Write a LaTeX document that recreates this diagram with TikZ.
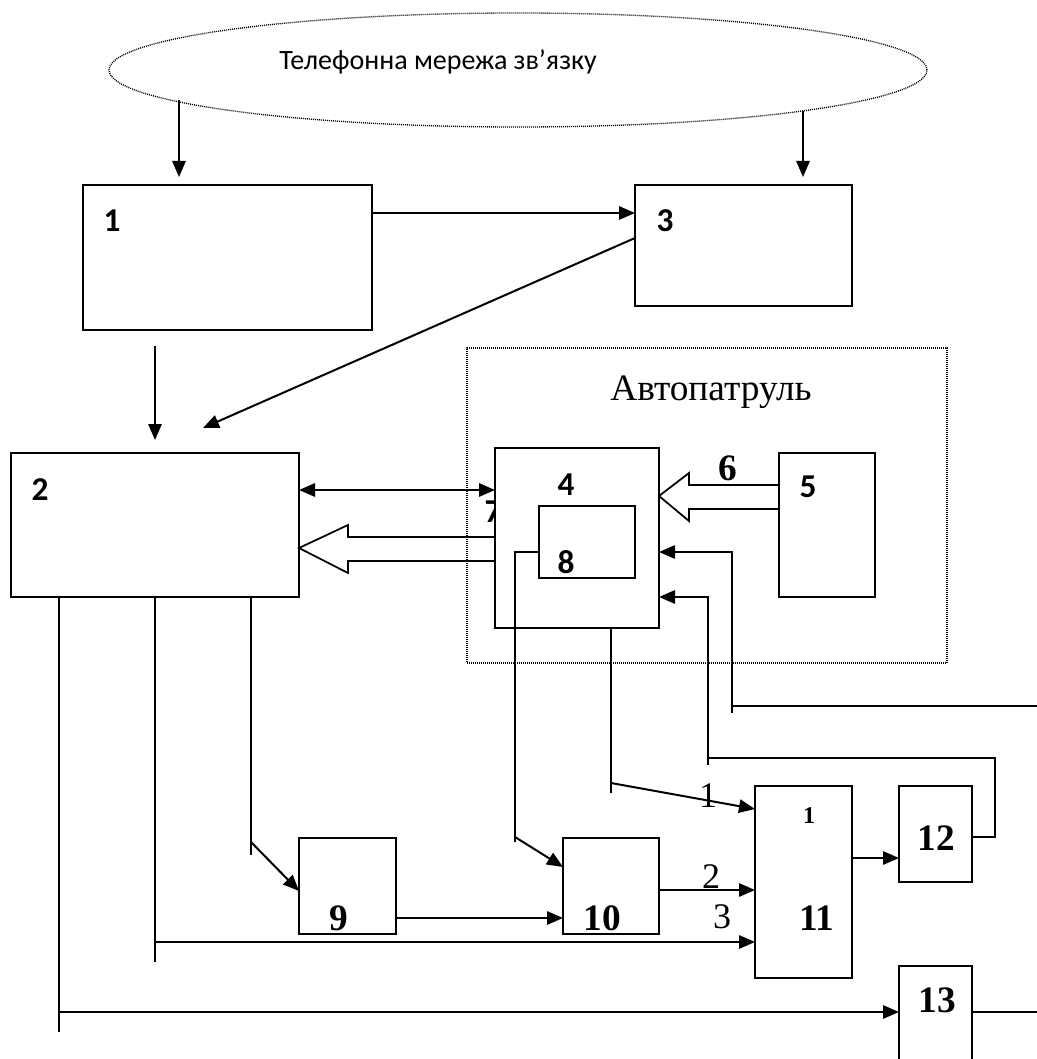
\documentclass[tikz,border=0pt]{standalone}
\usepackage{fontspec}
\setmainfont{Liberation Serif}
\newfontfamily\carl{Carlito}
\usetikzlibrary{arrows.meta,calc,shapes.geometric}

\begin{document}
\begin{tikzpicture}[x=0.75pt,y=0.75pt,yscale=-1,xscale=1,
  blk/.style={draw, line width=1.2pt, inner sep=0pt, outer sep=0pt, anchor=north west, fill=white},
  ln/.style={line width=1.5pt},
  arr/.style={ln, -{Triangle[length=12pt,width=10pt]}},
  dbl/.style={ln, {Triangle[length=12pt,width=10pt]}-{Triangle[length=12pt,width=10pt]}},
  hol/.style={line width=1.3pt},
  dots/.style={draw, line width=1pt, dash pattern=on 0.75pt off 0.75pt},
  sfn/.style={font=\carl\fontsize{25}{25}\selectfont\bfseries, inner sep=0pt, anchor=base},
  rmn/.style={font=\fontsize{28}{28}\selectfont\bfseries, inner sep=0pt, anchor=base},
  lbl/.style={font=\fontsize{27}{27}\selectfont, inner sep=0pt, anchor=base}]
\fill[white] (0,0) rectangle (1036,1059);
\useasboundingbox (0,0) rectangle (1036,1059);

%Shape: Ellipse [network]
\node[dots, ellipse, inner sep=0pt, minimum width=613.5pt, minimum height=85.5pt] (net) at (518,70) {};
% Text Node
\node[font=\carl\fontsize{21}{21}\selectfont, inner sep=0pt, anchor=base] (nettxt) at (438,70) {Телефонна мережа зв’язку};

%Shape: Rectangle [patrol group]
\node[dots, inner sep=0pt, outer sep=0pt, anchor=north west, minimum width=360pt, minimum height=236.25pt] (patrol) at (467,348) {};
% Text Node
\node[font=\fontsize{28}{28}\selectfont, inner sep=0pt, anchor=base] (patroltxt) at (711,400) {Автопатруль};

%Shape: Rectangles [blocks]
\node[blk, minimum width=216.75pt, minimum height=108.75pt] (b1) at (83,185) {};
\node[blk, minimum width=162.75pt, minimum height=90.75pt] (b3) at (635,185) {};
\node[blk, minimum width=216pt, minimum height=108pt] (b2) at (11,453) {};
\node[sfn] (l7) at (493,522) {7};
\node[blk, minimum width=123pt, minimum height=135pt] (b4) at (495,448) {};
\node[blk, minimum width=72pt, minimum height=54pt] (b8) at (539,506) {};
\node[blk, minimum width=72pt, minimum height=108pt] (b5) at (779,453) {};
\node[blk, minimum width=72.75pt, minimum height=72pt] (b9) at (299,838) {};
\node[blk, minimum width=72pt, minimum height=72pt] (b10) at (563,838) {};
\node[blk, minimum width=72.75pt, minimum height=144pt] (b11) at (755,786) {};
\node[blk, minimum width=54.75pt, minimum height=72pt] (b12) at (899,786) {};
\node[blk, minimum width=54.75pt, minimum height=90pt] (b13) at (899,966) {};

% Text Node
\node[sfn] (l1) at (112,232) {1};
\node[sfn] (l3) at (665,232) {3};
\node[sfn] (l2) at (40,500) {2};
\node[sfn] (l4) at (566,495) {4};
\node[sfn] (l8) at (566,573) {8};
\node[sfn] (l5) at (808,497) {5};
\node[rmn] (l6) at (728,480) {6};
\node[rmn] (l9) at (339,930) {9};
\node[rmn] (l10) at (602,930) {10};
\node[rmn] (l11) at (817,930) {11};
\node[rmn] (l12) at (936,850) {12};
\node[rmn] (l13) at (937,1012) {13};
\node[rmn, font=\fontsize{18}{18}\selectfont\bfseries] (l11a) at (809,823) {1};
\node[lbl] (in1) at (708,807) {1};
\node[lbl] (in2) at (711,888) {2};
\node[lbl] (in3) at (722,928) {3};

% free ends and bends
\coordinate (t1) at (179,177);
\coordinate (t3) at (803,177);
\coordinate (t2) at (203,428);
\coordinate (k4) at (611,793);
\coordinate (k8) at (515,842);
\coordinate (k9) at (251,855);
\coordinate (k3) at (155,962);
\coordinate (k13) at (59,1032);
\coordinate (k12) at (708,765);
\coordinate (k5) at (732,713);
\coordinate (e5) at (1040,706);

%Straight Lines [network inputs]
\draw[arr] (t1 |- net.185) -- (t1);
\draw[arr] (t3 |- net.352) -- (t3);
\draw[arr] ($(b1.north east)+(0,28)$) -- ($(b3.north west)+(0,28)$);
\draw[arr] ($(b3.north west)+(0,53)$) -- (t2);
\draw[arr] ($(b1.south west)+(72,16)$) -- ($(b2.north west)+(144,-13)$);
\draw[dbl] ($(b2.north east)+(0,37)$) -- ($(b4.north west)+(0,42)$);

%Shape: Block arrows
\draw[hol] ($(b4.north west)+(0,89)$) -- ++(-147,0) -- ++(0,-12) -- ++(-49,23) -- ++(49,25) -- ++(0,-12) -- ++(147,0);
\draw[hol] ($(b5.north west)+(0,32)$) -- ++(-90,0) -- ++(0,-12) -- ++(-30,23) -- ++(30,25) -- ++(0,-12) -- ++(90,0);

%Straight Lines [from 8 and 4]
\draw[ln] ($(b8.north west)+(0,46)$) -| (k8);
\draw[arr] ($(k8)+(0,-5)$) -- ($(b10.north west)+(0,29)$);
\draw[ln] (b4.south -| k4) -- (k4);
\draw[arr] ($(k4)+(0,-10)$) -- ($(b11.north west)+(0,23)$);

%Straight Lines [from 2]
\draw[ln] (b2.south -| k9) -- (k9);
\draw[arr] ($(k9)+(0,-13)$) -- ($(b9.north west)+(0,53)$);
\draw[ln] (b2.south -| k3) -- (k3);
\draw[arr] ($(k3)+(0,-20)$) -- ($(b11.north west)+(0,156)$);
\draw[ln] (b2.south -| k13) -- (k13);
\draw[arr] ($(k13)+(0,-20)$) -- ($(b13.north west)+(0,46)$);

%Straight Lines [chain]
\draw[arr] ($(b9.north east)+(0,80)$) -- ($(b10.north west)+(0,80)$);
\draw[arr] ($(b10.north east)+(0,52)$) -- ($(b11.north west)+(0,104)$);
\draw[arr] ($(b11.north east)+(0,72)$) -- ($(b12.north west)+(0,72)$);

%Straight Lines [feedback to 4]
\draw[ln] ($(b12.north east)+(0,51)$) -- ++(23,0) |- ($(k12)+(0,-7)$);
\draw[arr] (k12) |- ($(b4.north east)+(0,149)$);
\draw[ln] ($(b13.north east)+(0,46)$) -- ++(70,0);
\draw[ln] (e5) -- ($(k5)+(0,-7)$);
\draw[arr] (k5) |- ($(b4.north east)+(0,104)$);
\end{tikzpicture}
\end{document}
